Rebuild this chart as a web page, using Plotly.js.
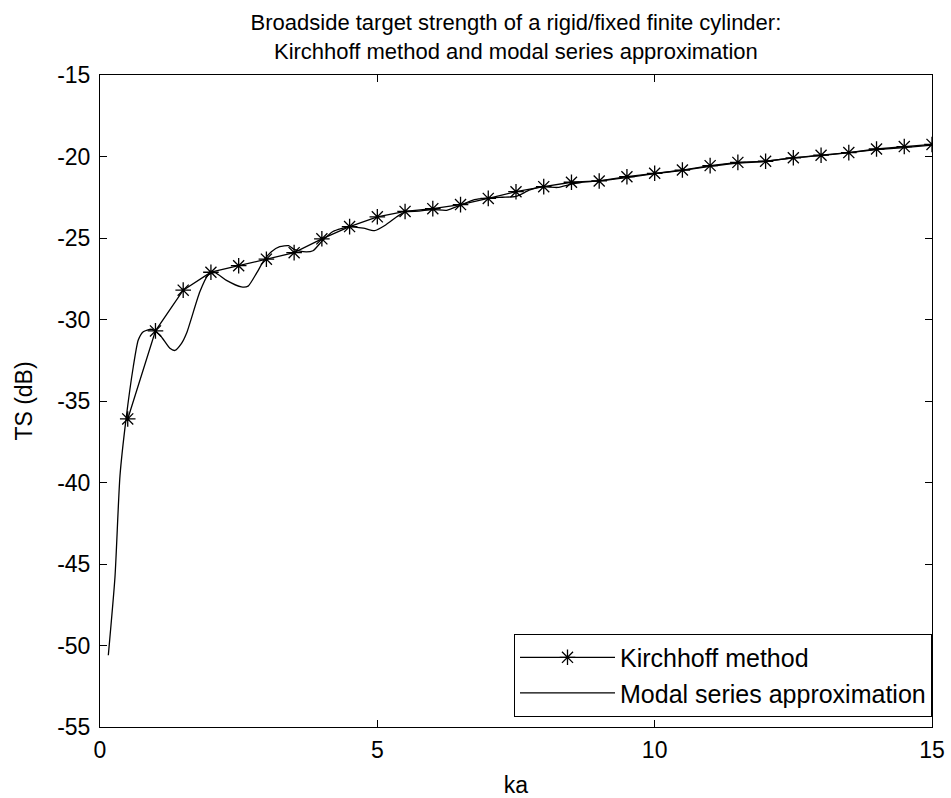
<!DOCTYPE html>
<html>
<head>
<meta charset="utf-8">
<script src="https://cdn.plot.ly/plotly-3.0.1.min.js"></script>
<style>html,body{margin:0;padding:0;background:#fff;}#chart{width:951px;height:798px;}</style>
</head>
<body>
<div id="chart"></div>
<script>
// Kirchhoff method (ka, TS dB)
const kirchKa = [0.5,1,1.5,2,2.5,3,3.5,4,4.5,5,5.5,6,6.5,7,7.5,8,8.5,9,9.5,10,10.5,11,11.5,12,12.5,13,13.5,14,14.5,15];
const kirchTS = [-36.1,-30.7,-28.2,-27.1,-26.7,-26.3,-25.9,-25.05,-24.3,-23.7,-23.37,-23.2,-22.95,-22.57,-22.16,-21.85,-21.58,-21.5,-21.24,-21.03,-20.83,-20.56,-20.36,-20.29,-20.08,-19.92,-19.76,-19.54,-19.39,-19.26];

// Modal series approximation (ka, TS dB)
const modalKa = [0.15,0.27,0.36,0.47,0.6,0.69,0.78,0.93,1.08,1.26,1.35,1.47,1.56,1.8,1.95,2.07,2.28,2.55,2.67,2.82,2.97,3.09,3.24,3.4,3.5,3.66,3.84,4.0,4.2,4.5,4.75,4.95,5.15,5.35,5.5,5.75,6.0,6.25,6.5,6.75,7.0,7.25,7.5,7.75,8.0,8.25,8.5,8.75,9.0,9.5,10,10.5,11,11.5,12,12.5,13,13.5,14,14.5,15];
const modalTS = [-50.6,-45.8,-39.6,-36.1,-32.9,-31.26,-30.75,-30.6,-30.95,-31.77,-31.9,-31.47,-30.85,-28.3,-27.27,-27.12,-27.6,-28.0,-27.95,-27.17,-26.3,-25.84,-25.53,-25.47,-25.7,-25.84,-25.78,-25.2,-24.6,-24.3,-24.4,-24.55,-24.2,-23.7,-23.4,-23.35,-23.25,-23.3,-22.98,-22.65,-22.55,-22.5,-22.45,-22.05,-21.85,-21.9,-21.7,-21.55,-21.5,-21.3,-21.05,-20.85,-20.6,-20.4,-20.3,-20.08,-19.95,-19.76,-19.58,-19.45,-19.3];

const xTicks = [0,5,10,15];
const yTicks = [-55,-50,-45,-40,-35,-30,-25,-20,-15];

const font = 'Liberation Sans, Arial, sans-serif';

const traces = [
  {x: kirchKa, y: kirchTS, mode: 'lines+markers', name: 'Kirchhoff method',
   line: {color: '#000', width: 1.3},
   marker: {symbol: 'asterisk-open', size: 13, color: '#000', line: {color: '#000', width: 1.3}}},
  {x: modalKa, y: modalTS, mode: 'lines', name: 'Modal series approximation',
   line: {color: '#000', width: 1.3, shape: 'spline', smoothing: 0.6}}
];

const axisCommon = {
  showline: true, linecolor: '#000', linewidth: 1, mirror: 'ticks',
  ticks: 'inside', ticklen: 7, tickcolor: '#000', tickwidth: 1,
  showgrid: false, zeroline: false,
  tickfont: {family: font, size: 23, color: '#000'}
};

const layout = {
  width: 951, height: 798,
  paper_bgcolor: '#fff', plot_bgcolor: '#fff',
  margin: {l: 100, r: 19, t: 75, b: 71},
  title: {text: 'Broadside target strength of a rigid/fixed finite cylinder:<br>Kirchhoff method and modal series approximation',
          font: {family: font, size: 22, color: '#000'}, x: 0.5425, xanchor: 'center', y: 0.962, yanchor: 'middle'},
  xaxis: Object.assign({}, axisCommon, {range: [0, 15], tickvals: xTicks, ticktext: xTicks.map(String),
          ticklabelstandoff: 2,
          title: {text: 'ka', font: {family: font, size: 23, color: '#000'}, standoff: 20}}),
  yaxis: Object.assign({}, axisCommon, {range: [-55, -15], tickvals: yTicks, ticktext: yTicks.map(String),
          ticklabelstandoff: 4,
          title: {text: 'TS (dB)', font: {family: font, size: 23, color: '#000'}, standoff: 18}}),
  showlegend: true,
  legend: {x: 1, xanchor: 'right', y: 0.016, yanchor: 'bottom',
           bgcolor: '#fff', bordercolor: '#000', borderwidth: 1,
           font: {family: font, size: 25, color: '#000'}, itemwidth: 95, tracegroupgap: 0}
};

Plotly.newPlot('chart', traces, layout, {displayModeBar: false, staticPlot: true});
</script>
</body>
</html>
